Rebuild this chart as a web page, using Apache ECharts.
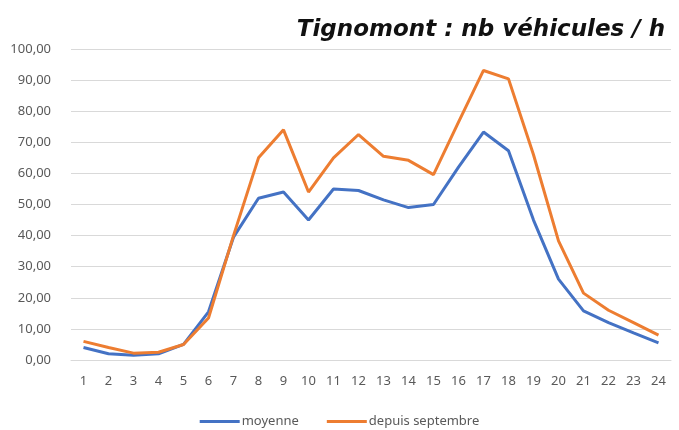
<!DOCTYPE html>
<html>
<head>
<meta charset="utf-8">
<script src="https://cdn.jsdelivr.net/npm/echarts@6/dist/echarts.min.js"></script>
<style>
  html, body { margin: 0; padding: 0; background: #ffffff; }
  #chart { width: 679px; height: 430px; }
</style>
</head>
<body>
<div id="chart"></div>
<script>
// heures de la journée
const hours = ['1', '2', '3', '4', '5', '6', '7', '8', '9', '10', '11', '12',
    '13', '14', '15', '16', '17', '18', '19', '20', '21', '22', '23', '24']
// nb véhicules / h (moyenne)
const moyenne = [4, 2, 1.5, 2, 5, 15.5, 39.5, 52, 54, 45, 55, 54.5,
    51.5, 49, 50, 62, 73.3, 67.3, 45, 26, 15.8, 12, 8.7, 5.5]
// nb véhicules / h (depuis septembre)
const depuisSeptembre = [6, 4, 2.2, 2.5, 5, 13.5, 40, 65, 74, 54, 65, 72.5,
    65.5, 64.2, 59.6, 76.5, 93.1, 90.4, 66, 38.3, 21.5, 16, 12, 8]

const labelFont = 'Noto Sans'
const chart = echarts.init(document.getElementById('chart'))
chart.setOption({
    backgroundColor: '#ffffff',
    title: {
        text: 'Tignomont : nb véhicules / h',
        right: 9,
        top: 14,
        textStyle: {
            fontFamily: 'DejaVu Sans',
            fontSize: 23,
            fontWeight: 'bold',
            fontStyle: 'italic',
            color: '#111111'
        }
    },
    grid: {
        left: 71,
        right: 8,
        top: 49,
        bottom: 70
    },
    legend: {
        top: 410,
        left: 'center',
        itemWidth: 40,
        itemHeight: 3,
        itemGap: 28,
        icon: 'rect',
        textStyle: {
            fontFamily: labelFont,
            fontSize: 13,
            color: '#595959',
            padding: [0, 0, 0, -3]
        }
    },
    xAxis: {
        type: 'category',
        data: hours,
        axisLine: { lineStyle: { color: '#d9d9d9' } },
        axisTick: { show: false },
        axisLabel: {
            fontFamily: labelFont,
            fontSize: 13,
            color: '#595959',
            margin: 15
        }
    },
    yAxis: {
        type: 'value',
        min: 0,
        max: 100,
        interval: 10,
        splitLine: { lineStyle: { color: '#d9d9d9' } },
        axisLabel: {
            fontFamily: labelFont,
            fontSize: 13,
            color: '#595959',
            margin: 20,
            formatter: v => v.toFixed(2).replace('.', ',')
        }
    },
    series: [
        {
            name: 'moyenne',
            type: 'line',
            data: moyenne,
            symbol: 'none',
            lineStyle: { width: 3, color: '#4472c4' },
            itemStyle: { color: '#4472c4' }
        },
        {
            name: 'depuis septembre',
            type: 'line',
            data: depuisSeptembre,
            symbol: 'none',
            lineStyle: { width: 3, color: '#ed7d31' },
            itemStyle: { color: '#ed7d31' }
        }
    ]
})
</script>
</body>
</html>
